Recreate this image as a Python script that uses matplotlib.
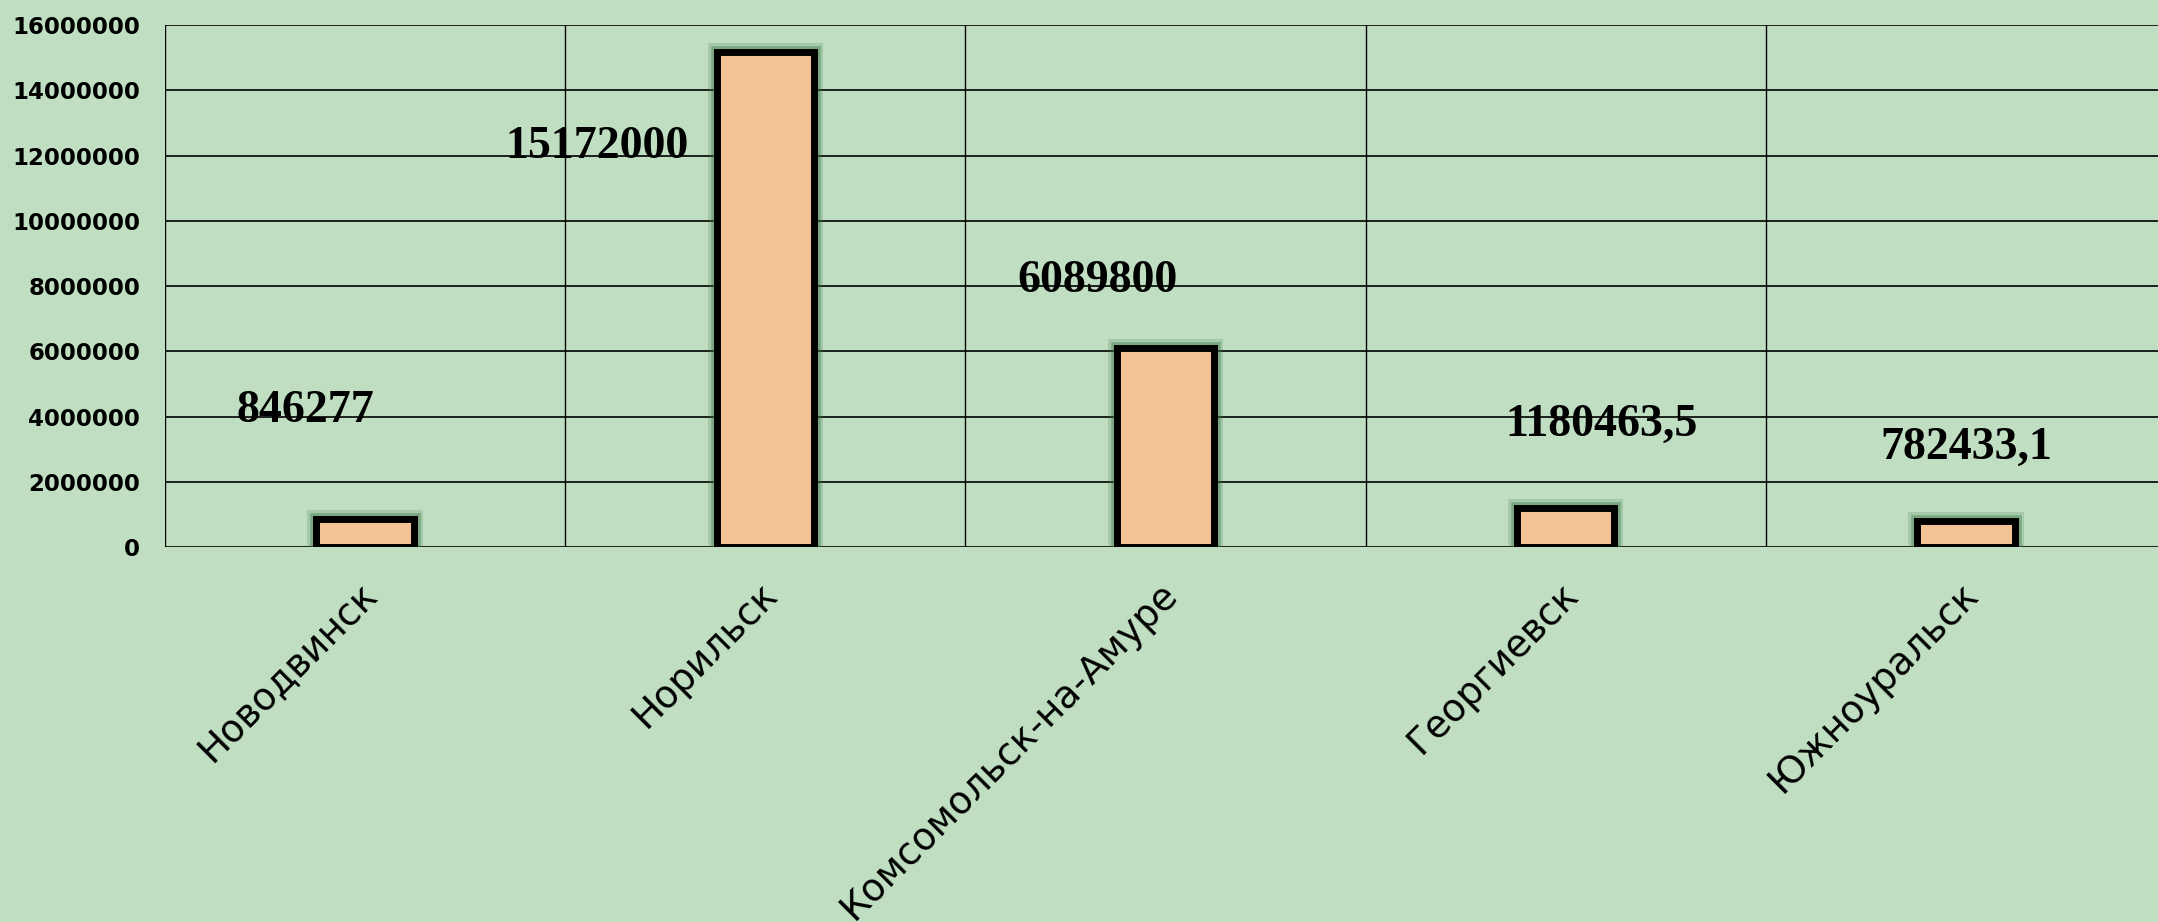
import matplotlib
matplotlib.use("Agg")
import matplotlib.pyplot as plt
import matplotlib.patheffects as pe
import matplotlib.transforms as mtransforms
import numpy as np

# Data
cities = ["Новодвинск", "Норильск", "Комсомольск-на-Амуре", "Георгиевск", "Южноуральск"]
values = [846277, 15172000, 6089800, 1180463.5, 782433.1]
value_labels = ["846277", "15172000", "6089800", "1180463,5", "782433,1"]

# where the data labels sit (offset from category, height in data units)
label_dx = [-0.15, -0.42, -0.17, 0.09, 0.0]
label_y = [3.83e6, 11.92e6, 7.82e6, 3.40e6, 2.70e6]

bg = "#C0DFC2"
bar_col = "#F3C396"

fig = plt.figure(figsize=(21.58, 9.22), dpi=100, facecolor=bg)
ax = fig.add_axes([165 / 2158, 375 / 922, 2001 / 2158, 522 / 922])
ax.set_facecolor(bg)

x = np.arange(len(cities))
bars = ax.bar(x, values, width=0.243, color=bar_col, edgecolor="black",
              linewidth=5, zorder=3)
for b in bars:
    b.set_path_effects([
        pe.Stroke(linewidth=13, foreground="#3a7547", alpha=0.2),
        pe.Stroke(linewidth=9, foreground="#3a7547", alpha=0.4),
        pe.Normal(),
    ])

for i, lab in enumerate(value_labels):
    ax.text(x[i] + label_dx[i], label_y[i], lab, ha="center", va="baseline",
            fontsize=33, fontweight="bold", family="Liberation Serif", zorder=4)

ax.set_xlim(-0.5, len(cities) - 0.5)
ax.set_ylim(0, 16000000)
ax.set_yticks(np.arange(0, 16000001, 2000000))
ax.set_yticklabels([str(v) for v in range(0, 16000001, 2000000)],
                   fontsize=16.5, fontweight="bold")

# category names, rotated under each bar
ax.set_xticks(x)
ax.set_xticklabels([])
ax.set_xticks(np.arange(-0.5, len(cities)), minor=True)
base = mtransforms.blended_transform_factory(ax.transData, ax.transAxes)
offset = mtransforms.ScaledTranslation(-6 / 100, -29 / 100, fig.dpi_scale_trans)
for i, name in enumerate(cities):
    ax.text(x[i], 0, name, rotation=45, ha="right", va="top",
            rotation_mode="anchor", fontsize=27, transform=base + offset,
            clip_on=False)

ax.tick_params(axis="both", which="both", length=0)
ax.tick_params(axis="y", pad=18)

ax.grid(axis="y", color="black", linewidth=1.2, zorder=1)
ax.grid(axis="x", which="minor", color="black", linewidth=1.0, zorder=1)
ax.grid(axis="x", which="major", visible=False)
for s in ax.spines.values():
    s.set_visible(False)
ax.set_axisbelow(True)

fig.savefig("out.png", dpi=100, facecolor=bg)
